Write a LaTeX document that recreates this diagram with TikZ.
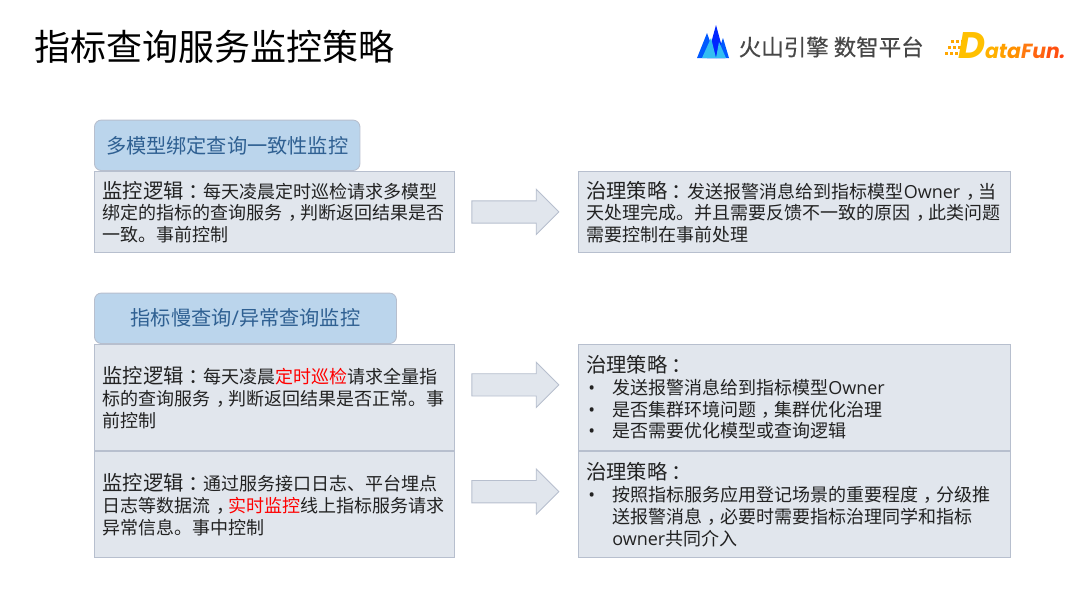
\documentclass[tikz,border=0pt]{standalone}
\usepackage{xcolor}
\usepackage{fontspec}
\setmainfont{Noto Sans CJK SC}
\newfontfamily\latinfont{Open Sans}
\newfontfamily\brandfont[FakeBold=0.4]{Noto Sans CJK SC}
\newfontfamily\funfont{Poppins}
\usetikzlibrary{shapes.arrows, positioning}
\definecolor{boxfill}{HTML}{E1E6ED}
\definecolor{boxline}{HTML}{B7BFCE}
\definecolor{headfill}{HTML}{BBD5EC}
\definecolor{headtext}{HTML}{2F6092}
\definecolor{inktext}{HTML}{222222}
\newcommand{\hot}[1]{\textcolor{red}{#1}}
\newcommand{\midpt}[1]{\hbox to 1em{\hskip.32em\relax #1\hss}}
\newcommand{\lead}[1]{{\fontsize{20.3}{21.7}\selectfont #1\hbox to 1em{\hskip.22em\relax ：\hss}}}
\newcommand{\cma}{\midpt{，}}
\newcommand{\own}[1]{{\latinfont #1}}
\newcommand{\bul}{\leavevmode\hbox to 26pt{\hskip2pt\latinfont •\hss}}

\begin{document}
\begin{tikzpicture}[x=1pt, y=-1pt,
    panel/.style={
      rectangle, draw=boxline, fill=boxfill, line width=0.9pt,
      font=\fontsize{18}{21.7}\selectfont, align=left, inner xsep=8pt, inner ysep=0pt,
      text=inktext, text width=#1-16pt, minimum height=106.2pt
    },
    head/.style={
      rectangle, draw=boxline, fill=headfill, line width=0.9pt, rounded corners=7pt,
      font=\fontsize{20.2}{24}\selectfont, text=headtext, inner sep=0pt,
      minimum height=50.5pt
    },
    gofwd/.style={
      single arrow, draw=boxline, fill=boxfill, line width=0.9pt,
      minimum height=87pt, inner xsep=0pt, inner ysep=10.7pt,
      single arrow head extend=11.5pt, single arrow head indent=0pt
    },
  ]
  \useasboundingbox (0,0) rectangle (1080,608);

  %% title and logos
  \node[anchor=west, font=\fontsize{36}{40}\selectfont, inner sep=0pt, text=black] (title) at (34.5,46.5) {指标查询服务监控策略};
  \node[anchor=west, font=\brandfont\fontsize{22.5}{24}\selectfont, inner sep=0pt, text=black!72] (brand) at (738.5,47) {火山引擎\hspace{5pt}数智平台};
  \fill[blue!65!cyan] (697,58) -- (707,33) -- (716,58) -- cycle;
  \fill[blue!85!cyan] (707,58) -- (716,25) -- (725,58) -- cycle;
  \fill[blue!65!cyan] (716,58) -- (723,38) -- (729,58) -- cycle;
  \fill[cyan!80!white] (702,58) -- (711,38) -- (716,58) -- cycle;
  \fill[cyan!80!white] (716,58) -- (719,42) -- (726,58) -- cycle;
  \foreach \px/\py in {951/40,956/40,961/40,948/46,953/46,958/46,945/52,950/52,955/52}
    \fill[orange!70!yellow] (\px,\py) rectangle ++(3.2,3.2);
  \node[anchor=base west, font=\funfont\bfseries\itshape\fontsize{20.4}{24}\selectfont, inner sep=0pt] (fun) at (958,58)
    {\textcolor[HTML]{FFC000}{\fontsize{37}{37}\selectfont D}\textcolor[HTML]{FFB000}{a}\textcolor[HTML]{FFA000}{t}\textcolor[HTML]{FF9000}{a}\textcolor[HTML]{FF7A10}{F}\textcolor[HTML]{FF6410}{u}\textcolor[HTML]{FF5010}{n}\textcolor[HTML]{FF4010}{.}};

  %% left column
  \node[panel=360pt, minimum height=81pt, anchor=north west] (logicA) at (94,171)
    {\lead{监控逻辑}每天凌晨定时巡检请求多模型\\绑定的指标的查询服务\cma 判断返回结果是否\\一致。事前控制};
  \node[panel=360pt, anchor=north west] (logicB) at (94,344)
    {\lead{监控逻辑}每天凌晨\hot{定时巡检}请求全量指\\标的查询服务\cma 判断返回结果是否正常。事\\前控制};
  \node[panel=360pt, below=0pt of logicB] (logicC)
    {\lead{监控逻辑}通过服务接口日志、平台埋点\\日志等数据流\cma\hot{实时监控}线上指标服务请求\\异常信息。事中控制};

  %% right column
  \node[panel=432.5pt, minimum height=81pt, anchor=north west] (ruleA) at (577.8,171)
    {\lead{治理策略}发送报警消息给到指标模型\own{Owner}\cma 当\\天处理完成。并且需要反馈不一致的原因\cma 此类问题\\需要控制在事前处理};
  \node[panel=432.5pt, anchor=north west] (ruleB) at (577.8,344)
    {\lead{治理策略}\\\bul 发送报警消息给到指标模型\own{Owner}\\\bul 是否集群环境问题\cma 集群优化治理\\\bul 是否需要优化模型或查询逻辑};
  \node[panel=432.5pt, below=0pt of ruleB] (ruleC)
    {\lead{治理策略}\\\bul 按照指标服务应用登记场景的重要程度\cma 分级推\\\hspace*{26pt}送报警消息\cma 必要时需要指标治理同学和指标\\\hspace*{26pt}\own{owner}共同介入};

  %% headers
  \node[head, minimum width=265.5pt, above=0pt of logicA.north west, anchor=south west] (headA) {多模型绑定查询一致性监控};
  \node[head, minimum width=302pt, above=0pt of logicB.north west, anchor=south west] (headB) {指标慢查询\own{/}异常查询监控};

  %% arrows
  \node[gofwd, right=16.5pt of logicA.east] (goA) {};
  \node[gofwd, right=16.5pt of logicB.east, yshift=12.7pt] (goB) {};
  \node[gofwd, right=16.5pt of logicC.east, yshift=13pt] (goC) {};
\end{tikzpicture}
\end{document}
